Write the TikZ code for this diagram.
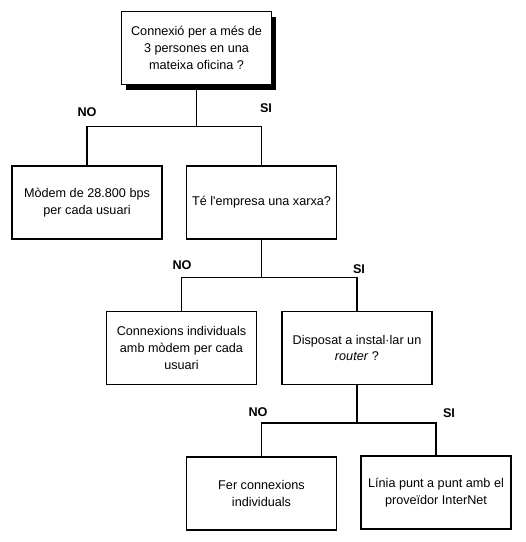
\documentclass[tikz,border=0pt]{standalone}
\usepackage{fontspec}
\setmainfont{Liberation Sans}
\usetikzlibrary{shadows}
\tikzset{
  caixa/.style={draw, line width=1.1pt, fill=white, minimum width=3cm, minimum height=1.46cm,
    inner sep=1pt, align=center, font=\fontsize{7.2}{9.6}\selectfont},
  branca/.style={line width=1.1pt},
  etiq/.style={font=\fontsize{7.2}{9}\selectfont\bfseries}
}

\begin{document}
\begin{tikzpicture}
          \useasboundingbox (0,0) rectangle (10.52,10.84);
          \node[caixa, drop shadow={shadow xshift=0.1cm, shadow yshift=-0.1cm, fill=black, opacity=1}]
            (conn3) at (3.93,9.88) {Connexió per a més de\\3 persones en una\\mateixa oficina ?};
          \node[caixa] (modem) at (1.74,6.79) {Mòdem de 28.800 bps\\per cada usuari};
          \node[caixa] (xarxa) at (5.23,6.79) {Té l\textquotesingle empresa una xarxa?};
          \node[caixa] (indiv) at (3.63,3.88) {Connexions individuals\\amb mòdem per cada\\usuari};
          \node[caixa] (router) at (7.14,3.88) {Disposat a instal·lar un\\\textit{router} ?};
          \node[caixa] (fer) at (5.23,0.97) {Fer connexions\\individuals};
          \node[caixa] (linia) at (8.72,0.99) {Línia punt a punt amb el\\proveïdor InterNet};

          \path (conn3.south) ++(0,-0.82) coordinate (j1);
          \path (xarxa.south) ++(0,-0.75) coordinate (j2);
          \path (router.south) ++(0,-0.75) coordinate (j3);

          \draw[branca] (conn3.south) -- (j1) (modem.north) |- (j1) -| (xarxa.north);
          \draw[branca] (xarxa.south) -- (j2) (indiv.north) |- (j2) -| (router.north);
          \draw[branca] (router.south) -- (j3) (fer.north) |- (j3) -| (linia.north);

          \node[etiq] (no1) at (1.74,8.60) {NO};
          \node[etiq] (si1) at (5.32,8.68) {SI};
          \node[etiq] (no2) at (3.64,5.54) {NO};
          \node[etiq] (si2) at (7.18,5.46) {SI};
          \node[etiq] (no3) at (5.16,2.60) {NO};
          \node[etiq] (si3) at (8.98,2.58) {SI};
        \end{tikzpicture}
\end{document}
